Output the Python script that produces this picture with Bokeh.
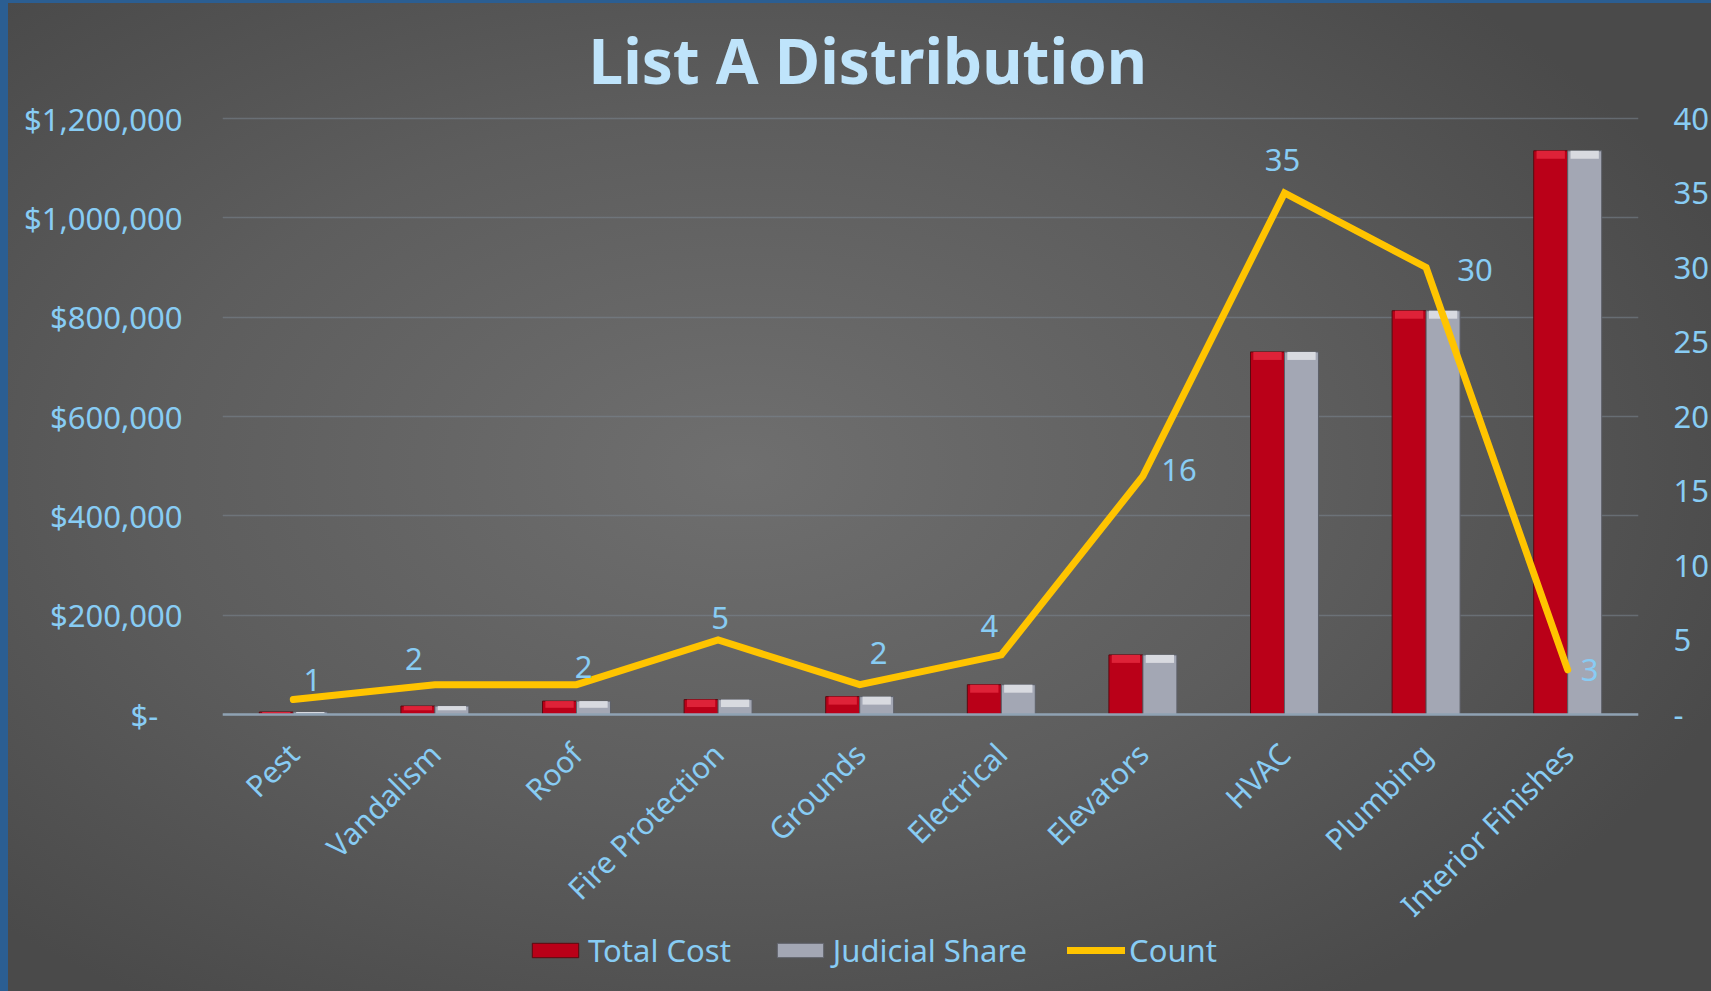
import math
from bokeh.plotting import figure
from bokeh.models import (FactorRange, Range1d, LinearAxis, FixedTicker, Span,
                          CustomJSTickFormatter, Legend, LegendItem, ColumnDataSource)
from bokeh.transform import dodge
from bokeh.core.properties import value
from bokeh.embed import file_html
from bokeh.resources import INLINE

categories = ["Pest", "Vandalism", "Roof", "Fire Protection", "Grounds",
              "Electrical", "Elevators", "HVAC", "Plumbing", "Interior Finishes"]
total_cost = [5000, 17000, 27000, 30000, 36000, 60000, 120000, 730000, 813000, 1135000]
judicial_share = [5000, 17000, 27000, 30000, 36000, 60000, 120000, 730000, 813000, 1135000]
count = [1, 2, 2, 5, 2, 4, 16, 35, 30, 3]
cost_ticks = [0, 200000, 400000, 600000, 800000, 1000000, 1200000]
count_ticks = [0, 5, 10, 15, 20, 25, 30, 35, 40]

# screen-pixel offsets of the count data labels (style only)
label_dx = [19, -21, 7, 2, 19, -12, 36, -2, 49, 22]
label_dy = [-20, -26, -18, -22, -32, -29, -6, -33, 2, 0]

BLUE = "#88CCF4"
FONT = "Noto Sans"

# layout: 0 sits at y=714 px and the axis top (1.2M / 40) at y=118 px; the
# frame is extended below zero to host the category labels and the legend.
AXIS_TOP, ZERO_Y, FRAME_BOTTOM, TOP_PAD = 118, 714, 991, 6
cost_max, count_max = 1200000, 40
span_px = ZERO_Y - AXIS_TOP
ext_lo = (FRAME_BOTTOM - ZERO_Y) / span_px
ext_hi = TOP_PAD / span_px

# bevel cap height (style): about 8 px, at most half the bar
px_cost = cost_max / span_px
cap_tot = [min(v * 0.5, 8 * px_cost) for v in total_cost]
cap_jud = [min(v * 0.5, 8 * px_cost) for v in judicial_share]

src = ColumnDataSource(dict(cat=categories, total=total_cost, judicial=judicial_share,
                            count=count, count_txt=[str(c) for c in count],
                            dx=label_dx, dy=label_dy, zero=[0] * len(categories),
                            cap_tot_bottom=[v - c for v, c in zip(total_cost, cap_tot)],
                            cap_jud_bottom=[v - c for v, c in zip(judicial_share, cap_jud)]))

p = figure(x_range=FactorRange(*categories),
           y_range=Range1d(-cost_max * ext_lo, cost_max * (1 + ext_hi)),
           width=1711, height=991, output_backend="svg", toolbar_location=None,
           x_axis_location=None,
           min_border_left=222, min_border_right=71, min_border_top=AXIS_TOP - TOP_PAD,
           min_border_bottom=0)
p.extra_y_ranges = {"count": Range1d(-count_max * ext_lo, count_max * (1 + ext_hi))}
p.background_fill_color = None
p.border_fill_color = None
p.outline_line_color = None
p.styles = {
    "background": ("radial-gradient(ellipse 62% 65% at 43% 47%, #6f6f6f 0%, #5d5d5d 55%, #4a4a4a 100%) "
                   "8px 3px / calc(100% - 8px) calc(100% - 3px) no-repeat, #2b5e92"),
}

# title
p.title.text = "List A Distribution"
p.title.align = "left"
p.title.offset = 366
p.title.text_font = FONT
p.title.text_font_style = "bold"
p.title.text_font_size = "62px"
p.title.text_color = "#BFE4FB"
p.title.standoff = 22

# grid
p.xgrid.grid_line_color = None
p.ygrid.ticker = FixedTicker(ticks=cost_ticks)
p.ygrid.grid_line_color = "#7a858f"
p.ygrid.grid_line_alpha = 0.55
p.ygrid.grid_line_width = 1.3

# bars
r_tot = p.vbar(x=dodge("cat", -0.12, range=p.x_range), top="total", width=0.24, source=src,
               fill_color="#BA0018", line_color="#5a0a10", line_width=1)
r_jud = p.vbar(x=dodge("cat", 0.12, range=p.x_range), top="judicial", width=0.24, source=src,
               fill_color="#A3A7B4", line_color="#5d6068", line_width=1)
# bevel highlight on top of bars
p.vbar(x=dodge("cat", -0.12, range=p.x_range), top="total", bottom="cap_tot_bottom",
       width=0.2, source=src, fill_color="#DE2238", line_color=None)
p.vbar(x=dodge("cat", 0.12, range=p.x_range), top="judicial", bottom="cap_jud_bottom",
       width=0.2, source=src, fill_color="#D8DAE0", line_color=None)

# category axis line and labels
p.add_layout(Span(location=0, dimension="width", line_color="#8FA2B3", line_width=2.5))
p.text(x="cat", y="zero", text="cat", source=src, angle=math.pi / 4,
       x_offset=0, y_offset=34, text_align="right", text_baseline="middle",
       text_font=value(FONT), text_font_size="30px", text_color=BLUE)

# count line
r_cnt = p.line(x="cat", y="count", source=src, y_range_name="count",
               line_color="#FFC400", line_width=7, line_cap="round", line_join="miter")

p.text(x="cat", y="count", text="count_txt", source=src, y_range_name="count",
       x_offset="dx", y_offset="dy", text_align="center", text_baseline="middle",
       text_font=value(FONT), text_font_size="31px", text_color=BLUE)

def style_axis(ax, standoff):
    ax.major_tick_line_color = None
    ax.minor_tick_line_color = None
    ax.major_tick_out = 0
    ax.major_tick_in = 0
    ax.minor_tick_out = 0
    ax.minor_tick_in = 0
    ax.axis_line_color = None
    ax.major_label_text_font = FONT
    ax.major_label_text_font_size = "31px"
    ax.major_label_text_color = BLUE
    ax.major_label_standoff = standoff

# left axis
yl = p.yaxis[0]
yl.ticker = FixedTicker(ticks=cost_ticks)
yl.formatter = CustomJSTickFormatter(code="""
    if (tick == 0) { return "$-\u00a0\u00a0\u00a0"; }
    return "$" + Math.round(tick).toLocaleString("en-US");
""")
style_axis(yl, 40)

# right axis
yr = LinearAxis(y_range_name="count")
yr.ticker = FixedTicker(ticks=count_ticks)
yr.formatter = CustomJSTickFormatter(code="""
    if (tick == 0) { return "-"; }
    return String(tick);
""")
style_axis(yr, 35)
p.add_layout(yr, "right")

legend = Legend(items=[LegendItem(label="Total Cost", renderers=[r_tot]),
                       LegendItem(label="Judicial Share", renderers=[r_jud]),
                       LegendItem(label="Count", renderers=[r_cnt])],
                location=(304, 20), orientation="horizontal",
                glyph_width=58, glyph_height=18, label_standoff=4, spacing=40,
                padding=0, margin=0, border_line_color=None, background_fill_alpha=0,
                label_text_font=FONT, label_text_font_size="31px", label_text_color=BLUE)
p.add_layout(legend, "center")

open("out.html", "w").write(file_html(p, INLINE))
